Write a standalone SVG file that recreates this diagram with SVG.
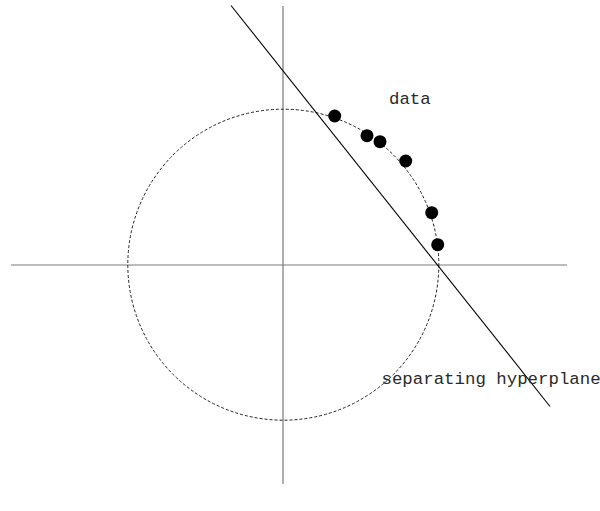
<svg xmlns="http://www.w3.org/2000/svg" width="600" height="511" viewBox="0 0 600 511">
<style>
.axis{stroke:#7a7a7a;stroke-width:1.2;fill:none}
.hp{stroke:#000;stroke-width:1.1;fill:none}
.circ{stroke:#222;stroke-width:1;fill:none;stroke-dasharray:3 2}
.pt{fill:#000}
.lbl{font-family:"Liberation Mono","Courier New",monospace;font-size:17.4px;fill:#2a2a2a}
</style>
<rect width="600" height="511" fill="#fff"/>
<g id="connectors">
<line id="x-axis" class="axis" x1="11" y1="265" x2="567" y2="265"/>
<line id="y-axis" class="axis" x1="283" y1="6" x2="283" y2="484"/>
<circle id="unit-circle" class="circ" cx="283.3" cy="264.7" r="155.5"/>
<line id="hyperplane" class="hp" x1="231" y1="5.5" x2="550" y2="406.5"/>
</g>
<g id="data">
<circle class="pt" cx="334.7" cy="116" r="6.5"/>
<circle class="pt" cx="367" cy="135.7" r="6.5"/>
<circle class="pt" cx="380" cy="141.7" r="6.5"/>
<circle class="pt" cx="405.7" cy="161" r="6.5"/>
<circle class="pt" cx="431.7" cy="212.7" r="6.5"/>
<circle class="pt" cx="437.7" cy="244.7" r="6.5"/>
<text class="lbl" x="389" y="103.5">data</text>
</g>
<g id="hyperplane-label">
<text class="lbl" x="381.5" y="384">separating hyperplane</text>
</g>
</svg>
